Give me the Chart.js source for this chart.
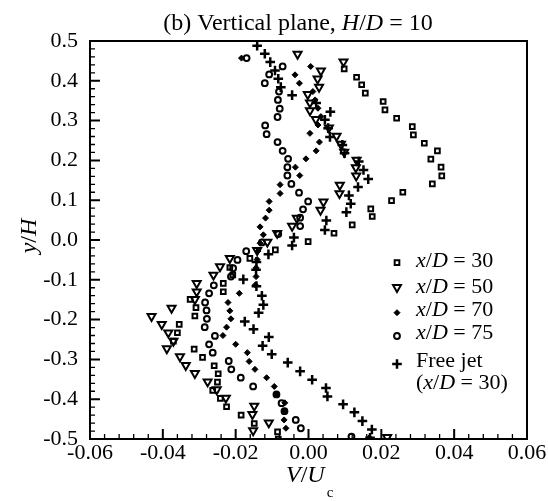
<!DOCTYPE html>
<html>
<head>
<meta charset="utf-8">
<script src="https://cdn.jsdelivr.net/npm/chart.js@4"></script>
<style>
  html, body { margin: 0; padding: 0; background: #fff; }
</style>
</head>
<body>
<canvas id="chart" width="548" height="501"></canvas>
<script>
// tick labels
const xTickVals = [-0.06, -0.04, -0.02, 0.00, 0.02, 0.04, 0.06];
const yTickVals = [-0.5, -0.4, -0.3, -0.2, -0.1, 0.0, 0.1, 0.2, 0.3, 0.4, 0.5];

// x/D = 30
const sq30V = [0.0098, 0.0132, 0.0146, 0.0156, 0.0205, 0.0210, 0.0242, 0.0285, 0.0288, 0.0318,
  0.0354, 0.0336, 0.0364, 0.0366, 0.0340, 0.0259, 0.0228, 0.0171, 0.0175, 0.0120,
  0.0070, -0.0001, -0.0091, -0.0161, -0.0216, -0.0208, -0.0234, -0.0234, -0.0325, -0.0309,
  -0.0312, -0.0355, -0.0360, -0.0371, -0.0314, -0.0291, -0.0259, -0.0248, -0.0250, -0.0263,
  -0.0242, -0.0225, -0.0185, -0.0149, -0.0085, -0.0083];
const sq30Y = [0.430, 0.409, 0.390, 0.369, 0.348, 0.327, 0.306, 0.285, 0.264, 0.243,
  0.224, 0.203, 0.183, 0.161, 0.141, 0.120, 0.099, 0.078, 0.059, 0.038,
  0.017, -0.004, -0.025, -0.046, -0.069, -0.088, -0.109, -0.130, -0.149, -0.170,
  -0.191, -0.212, -0.233, -0.254, -0.274, -0.295, -0.316, -0.336, -0.357, -0.378,
  -0.398, -0.419, -0.440, -0.461, -0.482, -0.500];

// x/D = 50
const tri50V = [-0.0030, 0.0096, 0.0034, 0.0025, 0.0029, -0.0002, 0.0004, 0.0004, 0.0020, 0.0056,
  0.0077, 0.0089, 0.0098, 0.0132, 0.0130, 0.0131, 0.0086, 0.0085, 0.0041, 0.0033,
  -0.0032, -0.0045, -0.0086, -0.0113, -0.0141, -0.0216, -0.0243, -0.0261, -0.0307, -0.0307,
  -0.0312, -0.0376, -0.0431, -0.0403, -0.0385, -0.0371, -0.0389, -0.0353, -0.0337, -0.0312,
  -0.0277, -0.0252, -0.0227, -0.0149, -0.0154, -0.0109, -0.0152, 0.0216];
const tri50Y = [0.467, 0.448, 0.425, 0.405, 0.384, 0.366, 0.345, 0.325, 0.303, 0.282,
  0.261, 0.241, 0.221, 0.201, 0.182, 0.161, 0.138, 0.117, 0.096, 0.075,
  0.055, 0.035, 0.017, -0.005, -0.026, -0.046, -0.067, -0.088, -0.109, -0.130,
  -0.149, -0.171, -0.192, -0.212, -0.233, -0.254, -0.273, -0.293, -0.315, -0.335,
  -0.356, -0.376, -0.397, -0.417, -0.438, -0.459, -0.479, -0.496];

// x/D = 70
const dia70V = [-0.0184, 0.0006, -0.0037, -0.0025, 0.0012, 0.0018, 0.0026, 0.0034, 0.0026, 0.0004,
  0.0030, 0.0021, -0.0007, -0.0036, -0.0024, -0.0078, -0.0078, -0.0108, -0.0108, -0.0118,
  -0.0133, -0.0124, -0.0133, -0.0139, -0.0141, -0.0144, -0.0144, -0.0146, -0.0190, -0.0221,
  -0.0216, -0.0213, -0.0225, -0.0235, -0.0200, -0.0168, -0.0163, -0.0147, -0.0115, -0.0094,
  -0.0088, -0.0065, -0.0065, -0.0067, -0.0062, 0.0167];
const dia70Y = [0.457, 0.436, 0.415, 0.394, 0.373, 0.352, 0.331, 0.310, 0.289, 0.268,
  0.246, 0.224, 0.204, 0.183, 0.162, 0.139, 0.117, 0.097, 0.075, 0.055,
  0.033, 0.013, -0.008, -0.028, -0.049, -0.070, -0.092, -0.113, -0.134, -0.157,
  -0.178, -0.198, -0.219, -0.240, -0.262, -0.283, -0.305, -0.325, -0.346, -0.368,
  -0.388, -0.409, -0.430, -0.452, -0.473, -0.497];

// x/D = 75
const cir75V = [-0.0170, -0.0071, -0.0108, -0.0120, -0.0081, -0.0084, -0.0079, -0.0085, -0.0119, -0.0115,
  -0.0085, -0.0071, -0.0056, -0.0058, -0.0058, -0.0047, -0.0026, -0.0001, -0.0015, -0.0023,
  -0.0023, -0.0083, -0.0128, -0.0171, -0.0195, -0.0207, -0.0213, -0.0260, -0.0273, -0.0284,
  -0.0280, -0.0279, -0.0285, -0.0257, -0.0273, -0.0263, -0.0219, -0.0212, -0.0186, -0.0152,
  -0.0088, -0.0074, -0.0066, -0.0035, -0.0021, 0.0118];
const cir75Y = [0.457, 0.436, 0.416, 0.394, 0.373, 0.352, 0.330, 0.309, 0.288, 0.266,
  0.246, 0.224, 0.204, 0.183, 0.162, 0.141, 0.119, 0.097, 0.077, 0.056,
  0.035, 0.015, -0.006, -0.028, -0.050, -0.071, -0.092, -0.114, -0.134, -0.157,
  -0.177, -0.198, -0.219, -0.241, -0.262, -0.283, -0.304, -0.325, -0.346, -0.368,
  -0.388, -0.410, -0.430, -0.452, -0.473, -0.494];

// free jet (x/D = 30)
const jetV = [-0.0141, -0.0120, -0.0105, -0.0092, -0.0083, -0.0076, -0.0045, 0.0021, 0.0060, 0.0045,
  0.0054, 0.0059, 0.0093, 0.0099, 0.0138, 0.0151, 0.0164, 0.0136, 0.0111, 0.0116,
  0.0104, 0.0049, 0.0045, -0.0040, -0.0045, -0.0110, -0.0143, -0.0144, -0.0179, -0.0143,
  -0.0128, -0.0124, -0.0137, -0.0175, -0.0151, -0.0109, -0.0126, -0.0101, -0.0057, -0.0023,
  0.0010, 0.0048, 0.0052, 0.0095, 0.0126, 0.0148, 0.0174, 0.0169];
const jetY = [0.488, 0.468, 0.447, 0.426, 0.405, 0.384, 0.364, 0.344, 0.322, 0.302,
  0.281, 0.259, 0.239, 0.218, 0.197, 0.176, 0.153, 0.133, 0.112, 0.091,
  0.070, 0.049, 0.025, 0.006, -0.014, -0.036, -0.055, -0.075, -0.099, -0.116,
  -0.140, -0.163, -0.183, -0.205, -0.224, -0.244, -0.266, -0.287, -0.308, -0.330,
  -0.351, -0.372, -0.393, -0.413, -0.433, -0.455, -0.476, -0.497];

const serif = "'Liberation Serif', 'Times New Roman', serif";

const markers = [
  { pointStyle: "rect", radius: 3.3, rotation: 0, borderWidth: 2, backgroundColor: "rgba(0,0,0,0)" },
  { pointStyle: "triangle", radius: 4.6, rotation: 180, borderWidth: 2, backgroundColor: "rgba(0,0,0,0)" },
  { pointStyle: "rectRot", radius: 3, rotation: 0, borderWidth: 1, backgroundColor: "#000" },
  { pointStyle: "circle", radius: 2.9, rotation: 0, borderWidth: 2, backgroundColor: "rgba(0,0,0,0)" },
  { pointStyle: "cross", radius: 4.8, rotation: 0, borderWidth: 2.5, backgroundColor: "#000" }
];

function pts(xs, ys) {
  return xs.map((v, i) => ({ x: v, y: ys[i] }));
}

function makeSet(label, xs, ys, m) {
  return {
    label: label,
    data: pts(xs, ys),
    pointStyle: m.pointStyle,
    pointRadius: m.radius,
    pointRotation: m.rotation,
    pointBorderWidth: m.borderWidth,
    pointBorderColor: "#000",
    pointBackgroundColor: m.backgroundColor,
    showLine: false
  };
}

// draws a line of text made of plain / italic pieces
function drawRuns(ctx, parts, x, y, size, align) {
  let w = 0;
  parts.forEach(p => {
    ctx.font = (p[1] ? "italic " : "") + size + "px " + serif;
    w += ctx.measureText(p[0]).width;
  });
  let cx = align === "center" ? x - w / 2 : x;
  ctx.textAlign = "left";
  ctx.textBaseline = "alphabetic";
  parts.forEach(p => {
    ctx.font = (p[1] ? "italic " : "") + size + "px " + serif;
    ctx.fillText(p[0], cx, y);
    cx += ctx.measureText(p[0]).width;
  });
  return cx;
}

const legendRows = [
  { parts: [["x", true], ["/", false], ["D", true], [" = 30", false]], base: 267, my: 262.7, m: 0 },
  { parts: [["x", true], ["/", false], ["D", true], [" = 50", false]], base: 293, my: 287.3, m: 1 },
  { parts: [["x", true], ["/", false], ["D", true], [" = 70", false]], base: 316, my: 312.7, m: 2 },
  { parts: [["x", true], ["/", false], ["D", true], [" = 75", false]], base: 339, my: 336, m: 3 },
  { parts: [["Free jet", false]], base: 367, my: 364, m: 4 },
  { parts: [["(", false], ["x", true], ["/", false], ["D", true], [" = 30)", false]], base: 389, my: null, m: null }
];

const framePlugin = {
  id: "frame",
  afterDraw(chart) {
    const ctx = chart.ctx;
    const a = chart.chartArea;
    const xs = chart.scales.x;
    const ys = chart.scales.y;
    ctx.save();
    ctx.fillStyle = "#000";
    ctx.strokeStyle = "#000";

    // minor ticks
    ctx.lineWidth = 1.3;
    ctx.beginPath();
    for (let i = 0; i <= 30; i++) {
      if (i % 5 === 0) continue;
      const px = xs.getPixelForValue(-0.06 + i * 0.004);
      ctx.moveTo(px, a.bottom);
      ctx.lineTo(px, a.bottom - 5);
    }
    for (let i = 0; i <= 50; i++) {
      if (i % 5 === 0) continue;
      const py = ys.getPixelForValue(-0.5 + i * 0.02);
      ctx.moveTo(a.left, py);
      ctx.lineTo(a.left + 5, py);
    }
    ctx.stroke();

    // major ticks
    ctx.lineWidth = 2;
    ctx.beginPath();
    xTickVals.forEach(v => {
      const px = xs.getPixelForValue(v);
      ctx.moveTo(px, a.bottom);
      ctx.lineTo(px, a.bottom - 10);
    });
    yTickVals.forEach(v => {
      const py = ys.getPixelForValue(v);
      ctx.moveTo(a.left, py);
      ctx.lineTo(a.left + 10, py);
    });
    ctx.stroke();

    // frame
    ctx.lineWidth = 2;
    ctx.strokeRect(a.left, a.top, a.right - a.left, a.bottom - a.top);

    // title
    drawRuns(ctx, [["(b) Vertical plane, ", false], ["H", true], ["/", false], ["D", true], [" = 10", false]],
      298, 30, 24, "center");

    // x title
    const end = drawRuns(ctx, [["V", true], ["/", false], ["U", true]], 286, 482, 24, "left");
    ctx.font = "15px " + serif;
    ctx.fillText("c", end + 2, 497);

    // y title
    ctx.save();
    ctx.translate(36, 236);
    ctx.rotate(-Math.PI / 2);
    drawRuns(ctx, [["y", true], ["/", false], ["H", true]], 0, 0, 24, "center");
    ctx.restore();

    // legend
    legendRows.forEach(r => {
      if (r.m !== null) {
        const m = markers[r.m];
        ctx.lineWidth = m.borderWidth;
        ctx.fillStyle = m.backgroundColor;
        Chart.helpers.drawPoint(ctx, {
          pointStyle: m.pointStyle, rotation: m.rotation, radius: m.radius, borderWidth: m.borderWidth
        }, 397, r.my);
        ctx.fillStyle = "#000";
      }
      drawRuns(ctx, r.parts, 416, r.base, 22, "left");
    });
    ctx.restore();
  }
};

new Chart(document.getElementById("chart"), {
  type: "scatter",
  data: {
    datasets: [
      makeSet("x/D = 30", sq30V, sq30Y, markers[0]),
      makeSet("x/D = 50", tri50V, tri50Y, markers[1]),
      makeSet("x/D = 70", dia70V, dia70Y, markers[2]),
      makeSet("x/D = 75", cir75V, cir75Y, markers[3]),
      makeSet("Free jet (x/D = 30)", jetV, jetY, markers[4])
    ]
  },
  options: {
    responsive: false,
    animation: false,
    layout: { padding: { top: 41, right: 21, left: 0, bottom: 0 } },
    plugins: {
      legend: { display: false },
      title: { display: false },
      tooltip: { enabled: false }
    },
    scales: {
      x: {
        type: "linear",
        min: -0.06,
        max: 0.06,
        afterBuildTicks: s => { s.ticks = xTickVals.map(v => ({ value: v })); },
        afterFit: s => { s.height = 62; },
        ticks: {
          color: "#000",
          padding: 1,
          maxRotation: 0,
          font: { family: serif, size: 22 },
          callback: v => (Math.abs(v) < 1e-9 ? "0.00" : v.toFixed(2))
        },
        grid: { display: false, drawTicks: false },
        border: { display: false }
      },
      y: {
        type: "linear",
        min: -0.5,
        max: 0.5,
        afterBuildTicks: s => { s.ticks = yTickVals.map(v => ({ value: v })); },
        afterFit: s => { s.width = 90; },
        ticks: {
          color: "#000",
          padding: 12,
          font: { family: serif, size: 22 },
          callback: v => (Math.abs(v) < 1e-9 ? "0.0" : v.toFixed(1))
        },
        grid: { display: false, drawTicks: false },
        border: { display: false }
      }
    }
  },
  plugins: [framePlugin]
});
</script>
</body>
</html>
